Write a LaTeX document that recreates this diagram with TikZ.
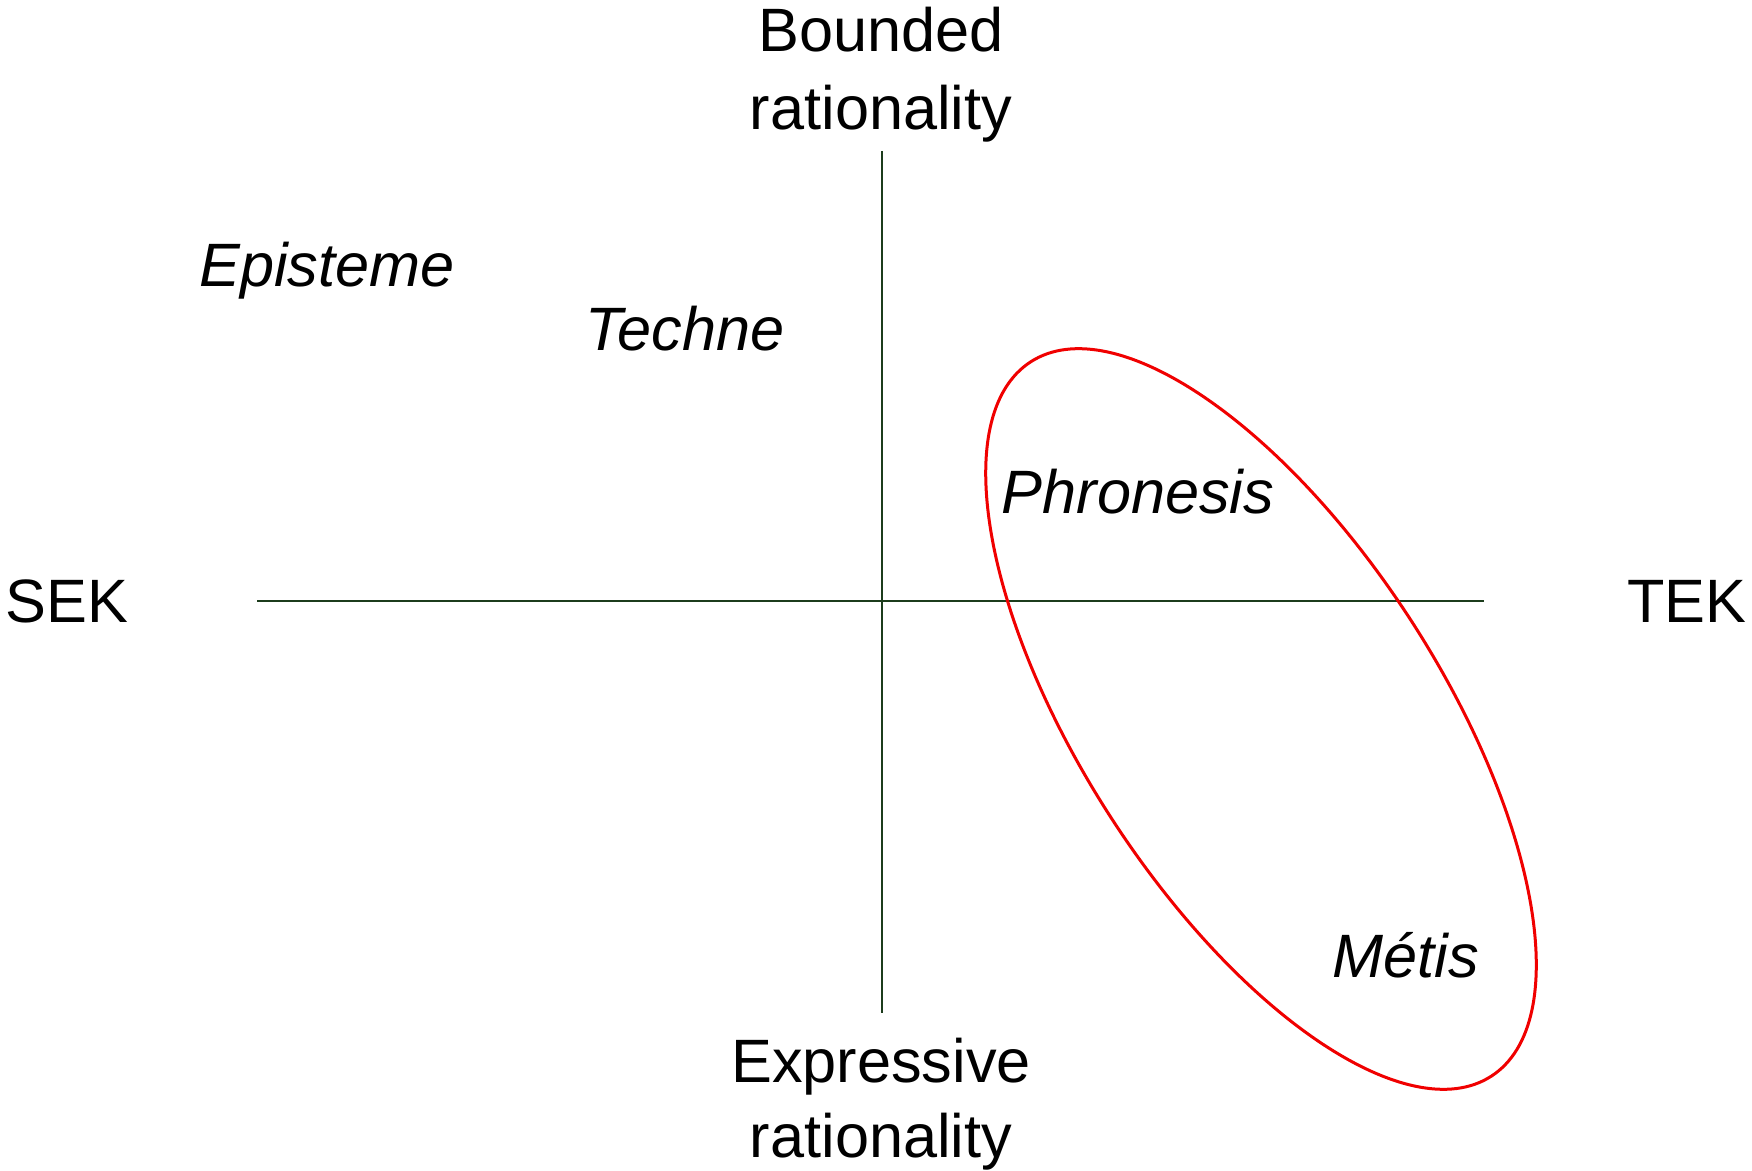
\documentclass[tikz,border=0pt]{standalone}
\usepackage{fontspec}
\setmainfont{Liberation Sans}
\begin{document}
\begin{tikzpicture}[x=0.4pt,y=-0.4pt,
  axisline/.style={draw={rgb,255:red,28;green,60;blue,28},line width=0.8pt},
  lbl/.style={font=\fontsize{24.5}{29}\selectfont,inner sep=0pt,anchor=base},
  ilbl/.style={lbl,font=\fontsize{24.5}{29}\selectfont\itshape},
  ring/.style={draw={rgb,255:red,240;green,0;blue,0},line width=1.2pt}]
\useasboundingbox (0,0) rectangle (1752,1171);
\coordinate (vtop) at (881.6,151);
\coordinate (vbot) at (881.6,1013);
\coordinate (hl) at (257,601);
\coordinate (hr) at (1484,601);
\draw[axisline] (vtop) -- (vbot);
\draw[axisline] (hl) -- (hr);
\node[lbl] (b1) at (881,52) {Bounded};
\node[lbl] (b2) at (881,130) {rationality};
\node[lbl] (e1) at (881,1082) {Expressive};
\node[lbl] (e2) at (881,1157) {rationality};
\node[lbl] (sek) at (67,622) {SEK};
\node[lbl] (tek) at (1687,622) {TEK};
\node[ilbl] (epi) at (327,287) {Episteme};
\node[ilbl] (tec) at (685,351) {Techne};
\node[ilbl] (phr) at (1138,514) {Phronesis};
\node[ilbl] (met) at (1406,977) {Métis};
\coordinate (ec) at (1261,719);
\draw[ring] (ec) ellipse [x radius=170pt, y radius=71.8pt, rotate=-57.2];
\end{tikzpicture}
\end{document}
